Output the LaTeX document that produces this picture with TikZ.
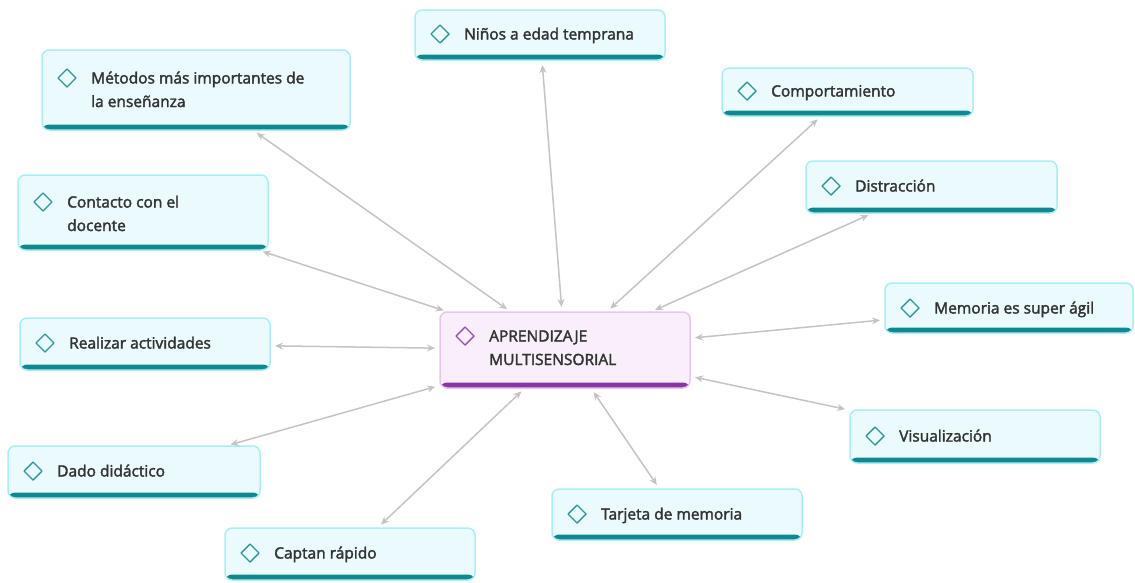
\documentclass[tikz,border=0pt]{standalone}
\usepackage{fontspec}
\setmainfont{Open Sans}[FakeBold=2.2]
\usetikzlibrary{arrows.meta,calc}
\definecolor{leaffill}{HTML}{EBFBFD}
\definecolor{leafborder}{HTML}{A9EEF5}
\definecolor{leafbar}{HTML}{0E8A8F}
\definecolor{leafdia}{HTML}{2A979B}
\definecolor{rootfill}{HTML}{F8EFFA}
\definecolor{rootborder}{HTML}{E6C6EF}
\definecolor{rootbar}{HTML}{8B35A5}
\definecolor{rootdia}{HTML}{9B4DB0}
\definecolor{textcol}{HTML}{333333}
\definecolor{conncol}{HTML}{C4C4C4}
\tikzset{
  leaf/.style={draw=leafborder, line width=1.5pt, fill=leaffill, rounded corners=7pt,
    inner sep=0pt, outer sep=0pt,
    path picture={\fill[leafbar] ([yshift=-2pt]path picture bounding box.south west) rectangle ([yshift=5.5pt]path picture bounding box.south east);}},
  root/.style={draw=rootborder, line width=1.5pt, fill=rootfill, rounded corners=7pt,
    inner sep=0pt, outer sep=0pt,
    path picture={\fill[rootbar] ([yshift=-2pt]path picture bounding box.south west) rectangle ([yshift=5.5pt]path picture bounding box.south east);}},
  leaficon/.style={draw=leafdia, line width=1.4pt, line join=round},
  rooticon/.style={draw=rootdia, line width=1.4pt, line join=round},
  mmtext/.style={anchor=base west, inner sep=0pt, text=textcol, font=\fontsize{15.5}{23.5}\selectfont},
  conn/.style={draw=conncol, line width=1.5pt, {Stealth[length=8pt,width=7pt]}-{Stealth[length=8pt,width=7pt]}, shorten <=5pt, shorten >=5pt}
}
\newcommand\mmbox[8]{%
  \node[#2, minimum width={#5-#3}, minimum height={#6-#4}] (#1) at ({(#3+#5)/2},{(#4+#6)/2}) {};
  \draw[#2icon] ($(#1.north west)+(25,#7)$) +(-9,0) -- +(0,-9) -- +(9,0) -- +(0,9) -- cycle;
  \node[mmtext] at ($(#1.north west)+(49,#7+5.5)$) {\parbox[t]{290pt}{\raggedright #8}};
}
\begin{document}
\begin{tikzpicture}[x=1pt,y=-1pt]
\useasboundingbox (0,0) rectangle (1135,582);
\mmbox{metodos}{leaf}{42}{50}{350}{130}{28}{Métodos más importantes de\\la enseñanza}
\mmbox{ninos}{leaf}{415}{10}{665}{60}{24}{Niños a edad temprana}
\mmbox{comp}{leaf}{722}{68}{973}{116}{23}{Comportamiento}
\mmbox{contacto}{leaf}{18}{175}{268}{250}{27}{Contacto con el\\docente}
\mmbox{distr}{leaf}{806}{161}{1057}{213}{25}{Distracción}
\mmbox{memoria}{leaf}{885}{283}{1133}{333}{25}{Memoria es super ágil}
\mmbox{realizar}{leaf}{20}{318}{270}{370}{25}{Realizar actividades}
\mmbox{rootn}{root}{440}{312}{690}{388}{24}{APRENDIZAJE\\MULTISENSORIAL}
\mmbox{visual}{leaf}{850}{410}{1100}{463}{26}{Visualización}
\mmbox{dado}{leaf}{8}{446}{260}{498}{25}{Dado didáctico}
\mmbox{tarjeta}{leaf}{552}{489}{802}{540}{25}{Tarjeta de memoria}
\mmbox{captan}{leaf}{225}{528}{475}{580}{25}{Captan rápido}
\foreach \n in {metodos,ninos,comp,contacto,distr,memoria,realizar,visual,dado,tarjeta,captan}
  \draw[conn] (\n) -- (rootn);
\end{tikzpicture}
\end{document}
